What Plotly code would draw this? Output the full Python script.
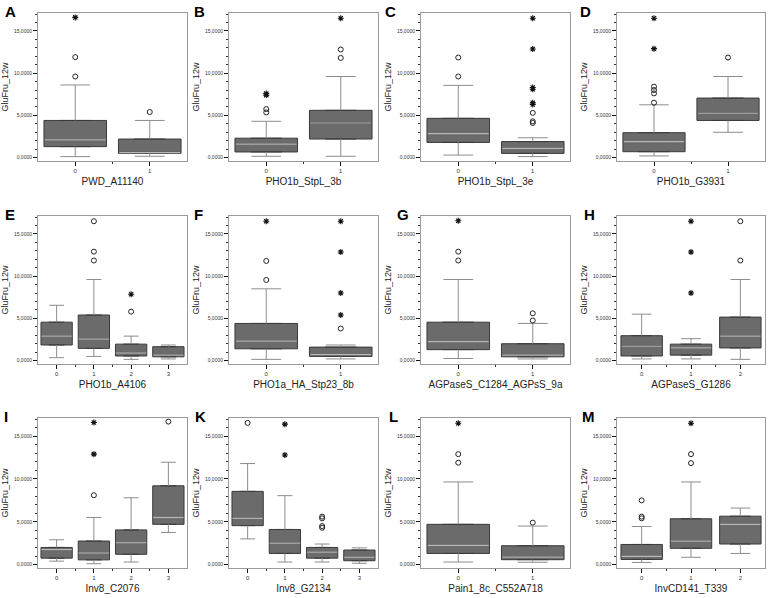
import plotly.graph_objects as go

FONT = "Arial, 'Liberation Sans', sans-serif"
Y_TITLE = "GluFru_12w"
YTICK_VALS = [0, 5, 10, 15]
YTICK_TEXT = ["0,0000", "5,0000", "10,0000", "15,0000"]

# ---- Panel A
A_xtitle = "PWD_A11140"
A_low = [0.12, 0.16]
A_q1 = [1.3, 0.5]
A_med = [2.1, 0.6]
A_q3 = [4.4, 2.2]
A_high = [8.6, 4.4]
A_circles = [(0, 9.6), (0, 11.9), (1, 5.4)]
A_stars = [(0, 16.6)]

# ---- Panel B
B_xtitle = "PHO1b_StpL_3b"
B_low = [0.16, 0.16]
B_q1 = [0.67, 2.2]
B_med = [1.6, 4.1]
B_q3 = [2.3, 5.6]
B_high = [4.3, 9.6]
B_circles = [(0, 5.35), (0, 5.75), (1, 11.8), (1, 12.8)]
B_stars = [(0, 7.4), (0, 7.6), (1, 16.5)]

# ---- Panel C
C_xtitle = "PHO1b_StpL_3e"
C_low = [0.3, 0.12]
C_q1 = [1.8, 0.5]
C_med = [2.85, 1.1]
C_q3 = [4.65, 1.9]
C_high = [8.55, 2.35]
C_circles = [(0, 9.6), (0, 11.85), (1, 4.1), (1, 4.3), (1, 5.3)]
C_stars = [(1, 6.3), (1, 6.5), (1, 8.1), (1, 8.3), (1, 12.85), (1, 16.5)]

# ---- Panel D
D_xtitle = "PHO1b_G3931"
D_low = [0.2, 3.0]
D_q1 = [0.7, 4.4]
D_med = [1.9, 5.25]
D_q3 = [2.95, 7.05]
D_high = [6.25, 9.6]
D_circles = [(0, 6.5), (0, 7.6), (0, 8.0), (0, 8.4), (1, 11.85)]
D_stars = [(0, 12.9), (0, 16.5)]

# ---- Panel E
E_xtitle = "PHO1b_A4106"
E_low = [0.35, 0.5, 0.15, 0.2]
E_q1 = [1.85, 1.45, 0.55, 0.45]
E_med = [2.9, 2.55, 0.9, 0.65]
E_q3 = [4.55, 5.4, 1.95, 1.65]
E_high = [6.55, 9.6, 2.9, 1.85]
E_circles = [(1, 11.85), (1, 12.9), (1, 16.5), (2, 5.8)]
E_stars = [(2, 7.85)]

# ---- Panel F
F_xtitle = "PHO1a_HA_Stp23_8b"
F_low = [0.15, 0.2]
F_q1 = [1.4, 0.5]
F_med = [2.3, 0.7]
F_q3 = [4.4, 1.6]
F_high = [8.5, 1.85]
F_circles = [(0, 9.55), (0, 11.8), (1, 3.8)]
F_stars = [(0, 16.5), (1, 5.4), (1, 8.0), (1, 12.85), (1, 16.5)]

# ---- Panel G
G_xtitle = "AGPaseS_C1284_AGPsS_9a"
G_low = [0.25, 0.2]
G_q1 = [1.3, 0.45]
G_med = [2.25, 0.65]
G_q3 = [4.55, 2.0]
G_high = [9.6, 4.4]
G_circles = [(0, 11.85), (0, 12.9), (1, 4.75), (1, 5.6)]
G_stars = [(0, 16.55)]

# ---- Panel H
H_xtitle = "AGPaseS_G1286"
H_low = [0.2, 0.2, 0.15]
H_q1 = [0.55, 0.65, 1.5]
H_med = [1.7, 1.5, 2.9]
H_q3 = [2.95, 1.95, 5.15]
H_high = [5.5, 2.6, 9.6]
H_circles = [(2, 11.85), (2, 16.5)]
H_stars = [(1, 8.0), (1, 12.85), (1, 16.5)]

# ---- Panel I
I_xtitle = "Inv8_C2076"
I_low = [0.4, 0.1, 0.3, 3.75]
I_q1 = [0.75, 0.55, 1.2, 4.7]
I_med = [1.75, 1.35, 2.55, 5.5]
I_q3 = [2.0, 2.75, 4.05, 9.2]
I_high = [2.9, 5.5, 7.8, 11.95]
I_circles = [(1, 8.1), (3, 16.7)]
I_stars = [(1, 12.9), (1, 16.6)]

# ---- Panel K
K_xtitle = "Inv8_G2134"
K_low = [3.0, 0.3, 0.3, 0.15]
K_q1 = [4.55, 1.3, 0.75, 0.45]
K_med = [5.4, 2.5, 1.45, 0.85]
K_q3 = [8.55, 4.1, 2.0, 1.7]
K_high = [11.8, 8.05, 2.4, 1.95]
K_circles = [(0, 16.55), (2, 4.3), (2, 4.5), (2, 5.4), (2, 5.6)]
K_stars = [(1, 12.8), (1, 16.4)]

# ---- Panel L
L_xtitle = "Pain1_8c_C552A718"
L_low = [0.3, 0.27]
L_q1 = [1.3, 0.57]
L_med = [2.25, 0.88]
L_q3 = [4.7, 2.2]
L_high = [9.65, 4.5]
L_circles = [(0, 11.9), (0, 12.9), (1, 4.9)]
L_stars = [(0, 16.5)]

# ---- Panel M
M_xtitle = "InvCD141_T339"
M_low = [0.25, 0.85, 1.3]
M_q1 = [0.6, 1.9, 2.4]
M_med = [0.95, 2.75, 4.7]
M_q3 = [2.35, 5.35, 5.65]
M_high = [4.45, 9.65, 6.6]
M_circles = [(0, 5.4), (0, 5.6), (0, 7.5), (1, 11.85), (1, 12.9)]
M_stars = [(1, 16.5)]

PANELS = [
    ("A", A_xtitle, A_low, A_q1, A_med, A_q3, A_high, A_circles, A_stars),
    ("B", B_xtitle, B_low, B_q1, B_med, B_q3, B_high, B_circles, B_stars),
    ("C", C_xtitle, C_low, C_q1, C_med, C_q3, C_high, C_circles, C_stars),
    ("D", D_xtitle, D_low, D_q1, D_med, D_q3, D_high, D_circles, D_stars),
    ("E", E_xtitle, E_low, E_q1, E_med, E_q3, E_high, E_circles, E_stars),
    ("F", F_xtitle, F_low, F_q1, F_med, F_q3, F_high, F_circles, F_stars),
    ("G", G_xtitle, G_low, G_q1, G_med, G_q3, G_high, G_circles, G_stars),
    ("H", H_xtitle, H_low, H_q1, H_med, H_q3, H_high, H_circles, H_stars),
    ("I", I_xtitle, I_low, I_q1, I_med, I_q3, I_high, I_circles, I_stars),
    ("K", K_xtitle, K_low, K_q1, K_med, K_q3, K_high, K_circles, K_stars),
    ("L", L_xtitle, L_low, L_q1, L_med, L_q3, L_high, L_circles, L_stars),
    ("M", M_xtitle, M_low, M_q1, M_med, M_q3, M_high, M_circles, M_stars),
]

# ---- layout geometry (pixels)
W, H = 769, 598
COL_X = [(38, 187), (229, 378), (421, 570), (617, 765)]
ROW_Y = [(13, 161), (216, 364), (418, 568)]
LETTER_X = [[3, 192, 383, 578], [3, 192, 395, 582], [2, 193, 387, 580]]
LETTER_Y = [1, 204, 406]

BOX_W = 0.84
CAP_W = 0.40
FILL = "#6b6b6b"
EDGE = "#3a3a3a"
WHISK = "#8c8c8c"
MEDC = "#b8b8b8"

fig = go.Figure()
annotations = []

for i, (letter, xtitle, lo, q1, med, q3, hi, circ, stars) in enumerate(PANELS):
    r, c = divmod(i, 4)
    n = len(med)
    pos = list(range(n))
    sfx = "" if i == 0 else str(i + 1)
    xa, ya = "x" + sfx, "y" + sfx

    # whiskers + caps
    wx, wy = [], []
    for p in pos:
        wx += [p, p, None, p, p, None,
               p - CAP_W / 2, p + CAP_W / 2, None, p - CAP_W / 2, p + CAP_W / 2, None]
        wy += [lo[p], q1[p], None, q3[p], hi[p], None,
               lo[p], lo[p], None, hi[p], hi[p], None]
    fig.add_trace(go.Scatter(x=wx, y=wy, mode="lines", xaxis=xa, yaxis=ya,
                             line=dict(color=WHISK, width=1), hoverinfo="skip",
                             showlegend=False))
    # boxes
    fig.add_trace(go.Box(x=pos, q1=q1, median=med, q3=q3, lowerfence=q1,
                         upperfence=q3, width=BOX_W, boxpoints=False,
                         fillcolor=FILL, line=dict(color=EDGE, width=1),
                         xaxis=xa, yaxis=ya, showlegend=False))
    # median lines
    mx, my = [], []
    for p in pos:
        mx += [p - BOX_W / 2 + 0.01, p + BOX_W / 2 - 0.01, None]
        my += [med[p], med[p], None]
    fig.add_trace(go.Scatter(x=mx, y=my, mode="lines", xaxis=xa, yaxis=ya,
                             line=dict(color=MEDC, width=1.2), hoverinfo="skip",
                             showlegend=False))
    # outliers
    if circ:
        fig.add_trace(go.Scatter(x=[a for a, b in circ], y=[b for a, b in circ],
                                 mode="markers", xaxis=xa, yaxis=ya,
                                 marker=dict(symbol="circle-open", size=5,
                                             color="#222", line=dict(width=1)),
                                 showlegend=False))
    if stars:
        fig.add_trace(go.Scatter(x=[a for a, b in stars], y=[b for a, b in stars],
                                 mode="markers", xaxis=xa, yaxis=ya,
                                 marker=dict(symbol="asterisk-open", size=5,
                                             color="#111", line=dict(width=1.1)),
                                 showlegend=False))

    x0, x1 = COL_X[c]
    y0, y1 = ROW_Y[r]
    fig.layout["xaxis" + sfx] = dict(
        domain=[x0 / W, x1 / W], anchor=ya, range=[-0.5, n - 0.5],
        automargin=False,
        tickvals=pos, ticktext=[str(p) for p in pos],
        ticks="outside", ticklen=4, tickcolor="#111", tickwidth=1,
        tickfont=dict(size=6, color="#333", family=FONT),
        showline=True, linecolor="#9a9a9a", linewidth=1, mirror=True,
        showgrid=False, zeroline=False, fixedrange=True,
        minor=dict(tickvals=[p + 0.5 for p in pos[:-1]], ticks="outside",
                   ticklen=2, tickcolor="#333"),
        title=dict(text=xtitle, font=dict(size=10, color="#222", family=FONT),
                   standoff=4),
    )
    fig.layout["yaxis" + sfx] = dict(
        domain=[1 - y1 / H, 1 - y0 / H], anchor=xa, range=[-0.4, 17.12],
        automargin=False,
        tickvals=YTICK_VALS, ticktext=YTICK_TEXT,
        ticks="outside", ticklen=4, tickcolor="#111", tickwidth=1,
        tickfont=dict(size=5, color="#333", family=FONT),
        showline=True, linecolor="#9a9a9a", linewidth=1, mirror=True,
        showgrid=False, zeroline=False, fixedrange=True,
        minor=dict(dtick=1, ticks="outside", ticklen=2, tickcolor="#333"),
        title=dict(text=Y_TITLE, font=dict(size=9, color="#222", family=FONT),
                   standoff=3),
    )
    annotations.append(dict(
        text="<b>%s</b>" % letter, xref="paper", yref="paper",
        x=LETTER_X[r][c] / W, y=1 - LETTER_Y[r] / H,
        xanchor="left", yanchor="top", showarrow=False,
        font=dict(size=15, color="#000", family=FONT)))

fig.update_layout(
    width=W, height=H, margin=dict(l=0, r=0, t=0, b=0),
    paper_bgcolor="white", plot_bgcolor="white",
    annotations=annotations, showlegend=False,
    font=dict(family=FONT), hovermode=False,
)

fig.write_html(
    "out.html",
    config={"displayModeBar": False, "staticPlot": True},
    post_script="document.body.style.margin='0';document.body.style.padding='0';"
                "document.body.style.overflow='hidden';",
)
